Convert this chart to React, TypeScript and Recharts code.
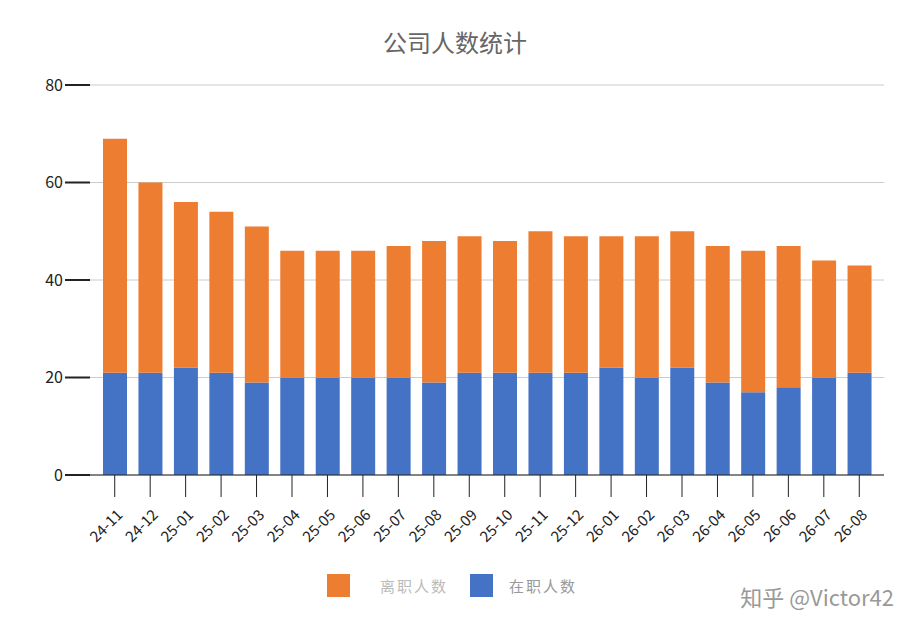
import { Bar, BarChart, CartesianGrid, XAxis, YAxis } from 'recharts'

const months = ['24-11', '24-12', '25-01', '25-02', '25-03', '25-04', '25-05', '25-06', '25-07', '25-08', '25-09', '25-10', '25-11', '25-12', '26-01', '26-02', '26-03', '26-04', '26-05', '26-06', '26-07', '26-08']
const blue = [21, 21, 22, 21, 19, 20, 20, 20, 20, 19, 21, 21, 21, 21, 22, 20, 22, 19, 17, 18, 20, 21]
const totals = [69, 60, 56, 54, 51, 46, 46, 46, 47, 48, 49, 48, 50, 49, 49, 49, 50, 47, 46, 47, 44, 43]
const yTicks = [0, 20, 40, 60, 80]

const data = months.map((m, i) => ({ m, a: blue[i], b: totals[i] - blue[i] }))

const XTick = (props: any) => {
  const { x, y, payload } = props
  return (
    <g transform={`translate(${x + 6},${y + 14})`}>
      <text textAnchor="end" transform="rotate(-45)" fontSize={15} fill="#222" dy={4}>
        {payload.value}
      </text>
    </g>
  )
}

export default function App() {
  return (
    <div style={{ position: 'relative', width: 900, height: 620, fontFamily: '"Noto Sans CJK SC", "Noto Sans", sans-serif' }}>
      <div style={{ position: 'absolute', top: 16, width: 910, left: -8, textAlign: 'center', fontSize: 24, color: '#666' }}>
        公司人数统计
      </div>
      <BarChart width={900} height={620} data={data} margin={{ top: 77, right: 24, left: 0, bottom: 73 }}>
        <CartesianGrid vertical={false} stroke="#ccc" />
        <XAxis dataKey="m" height={80} interval={0} tick={<XTick />} tickSize={22} stroke="#222" tickLine={{ stroke: '#222' }} padding={{ left: 7, right: 7 }} />
        <YAxis width={82} domain={[0, 80]} ticks={yTicks} axisLine={false} tickSize={25} tickLine={{ stroke: '#222', strokeWidth: 2 }} tick={{ fill: '#222', fontSize: 16 }} />
        <Bar dataKey="a" stackId="s" fill="#4472C4" barSize={24} isAnimationActive={false} />
        <Bar dataKey="b" stackId="s" fill="#ED7D31" barSize={24} isAnimationActive={false} />
      </BarChart>
      <div style={{ position: 'absolute', left: 319, top: 566, display: 'flex', alignItems: 'center' }}>
        <span style={{ width: 23, height: 23, background: '#ED7D31', display: 'inline-block' }} />
        <span style={{ color: '#bbb', fontSize: 15, letterSpacing: 2, marginLeft: 30, width: 70 }}>离职人数</span>
        <span style={{ width: 23, height: 23, background: '#4472C4', display: 'inline-block', marginLeft: 20 }} />
        <span style={{ color: '#999', fontSize: 15, letterSpacing: 2, marginLeft: 16 }}>在职人数</span>
      </div>
      <div style={{ position: 'absolute', right: 14, top: 572, fontSize: 22, color: '#999' }}>知乎 @Victor42</div>
    </div>
  )
}
